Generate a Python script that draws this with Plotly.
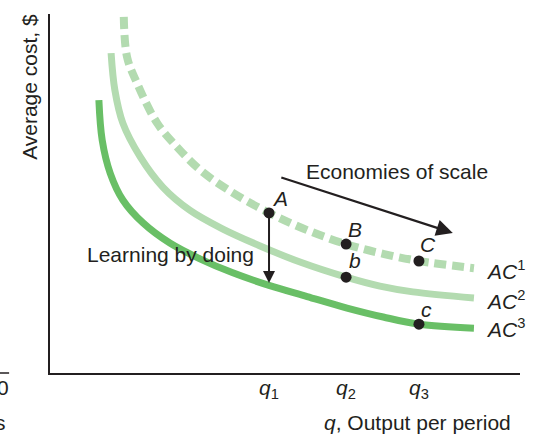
import plotly.graph_objects as go

# ── data (axis units: 0-100 on both axes) ─────────────────────────
ac1_x = [15.7, 16.4, 18.5, 22.8, 27.0, 31.9, 38.3, 46.6, 54.7, 63.0, 70.2, 78.5, 90.2]
ac1_y = [99.2, 88.0, 80.8, 69.6, 63.0, 56.6, 50.7, 44.6, 39.8, 35.9, 33.4, 31.2, 29.2]

ac2_x = [13.0, 13.8, 15.5, 19.2, 24.0, 29.8, 36.8, 44.7, 53.2, 63.0, 70.2, 77.2, 90.2]
ac2_y = [89.1, 78.8, 69.6, 60.2, 51.8, 45.3, 40.1, 35.4, 30.9, 26.7, 24.2, 22.6, 20.9]

ac3_x = [10.4, 11.1, 12.8, 15.5, 19.8, 25.5, 31.9, 38.9, 46.6, 54.7, 63.2, 70.9, 78.5, 90.2]
ac3_y = [76.0, 64.9, 55.7, 48.2, 41.8, 36.2, 31.8, 27.9, 24.4, 21.3, 18.1, 15.6, 13.6, 12.5]

q_vals = [46.6, 63.0, 78.5]
q_text = ["<i>q</i><sub>1</sub>", "<i>q</i><sub>2</sub>", "<i>q</i><sub>3</sub>"]

pt_names = ["A", "B", "C", "b", "c"]
pt_x = [46.6, 63.0, 78.5, 63.0, 78.5]
pt_y = [44.6, 35.9, 31.2, 26.7, 13.6]
lab_x = [48.9, 64.9, 80.4, 64.9, 80.2]
lab_y = [48.7, 40.1, 35.7, 31.2, 17.8]

curve_names = ["1", "2", "3"]
curve_lab_y = [28.7, 20.3, 12.5]

learn_end_y = 25.1
econ_start = (48.9, 54.6)
econ_end = (85.7, 39.0)

FONT = "Liberation Sans, Arial, sans-serif"
INK = "#231f20"
LIGHT = "#b3dbb0"
DARK = "#69bf66"
FS = 21

fig = go.Figure()

fig.add_trace(go.Scatter(x=ac1_x, y=ac1_y, mode="lines", line_shape="spline",
                         line=dict(color=LIGHT, width=8, dash="12px,6px")))
fig.add_trace(go.Scatter(x=ac2_x, y=ac2_y, mode="lines", line_shape="spline",
                         line=dict(color=LIGHT, width=7)))
fig.add_trace(go.Scatter(x=ac3_x, y=ac3_y, mode="lines", line_shape="spline",
                         line=dict(color=DARK, width=7)))
fig.add_trace(go.Scatter(x=pt_x, y=pt_y, mode="markers",
                         marker=dict(color=INK, size=11)))

ann = []
for name, x, y in zip(pt_names, lab_x, lab_y):
    ann.append(dict(x=x, y=y, text=f"<i>{name}</i>", showarrow=False,
                    font=dict(size=FS, color=INK)))
for sup, y in zip(curve_names, curve_lab_y):
    ann.append(dict(x=92.3, y=y, text=f"<i>AC</i><sup>{sup}</sup>",
                    showarrow=False, xanchor="left", yanchor="middle",
                    font=dict(size=FS, color=INK)))

# q tick labels
for q, t in zip(q_vals, q_text):
    ann.append(dict(x=q, y=-0.044, yref="paper", text=t, showarrow=False,
                    xanchor="center", yanchor="middle", font=dict(size=FS, color=INK)))

# arrows
ann.append(dict(x=pt_x[0], y=learn_end_y, ax=pt_x[0], ay=pt_y[0], axref="x", ayref="y",
                showarrow=True, arrowhead=2, arrowsize=1.2, arrowwidth=2,
                arrowcolor=INK, text=""))
ann.append(dict(x=econ_end[0], y=econ_end[1], ax=econ_start[0], ay=econ_start[1],
                axref="x", ayref="y", showarrow=True, arrowhead=2, arrowsize=1.5,
                arrowwidth=2.2, arrowcolor=INK, text=""))
ann.append(dict(x=73.8, y=56.0, text="Economies of scale", showarrow=False,
                font=dict(size=FS, color=INK)))
ann.append(dict(x=43.8, y=32.9, text="Learning by doing", showarrow=False,
                xanchor="right", font=dict(size=FS, color=INK)))

# axis titles
ann.append(dict(x=0.985, y=-0.1365, xref="paper", yref="paper", xanchor="right",
                yanchor="middle", text="<i>q</i>, Output per period", showarrow=False,
                font=dict(size=FS, color=INK)))
ann.append(dict(x=-0.0426, y=0.797, xref="paper", yref="paper", textangle=-90,
                xanchor="center", yanchor="middle",
                text="Average cost, $", showarrow=False, font=dict(size=FS, color=INK)))

# cropped leftovers at the left edge
ann.append(dict(x=-0.083, y=-0.039, xref="paper", yref="paper", xanchor="right",
                yanchor="middle", text="0", showarrow=False, font=dict(size=FS, color=INK)))
ann.append(dict(x=-0.09, y=-0.139, xref="paper", yref="paper", xanchor="right",
                yanchor="middle", text="s", showarrow=False, font=dict(size=FS, color=INK)))

fig.add_shape(type="line", xref="paper", yref="paper", x0=-0.11, x1=-0.087, y0=0, y1=0,
              line=dict(color=INK, width=1.5))

fig.update_layout(
    width=536, height=434,
    margin=dict(l=50, r=16, t=14, b=61),
    plot_bgcolor="white", paper_bgcolor="white",
    showlegend=False,
    font=dict(family=FONT, color=INK, size=FS),
    annotations=ann,
)
fig.update_xaxes(range=[0, 100], showgrid=False, zeroline=False, showline=True,
                 linecolor=INK, linewidth=2, ticks="", showticklabels=False)
fig.update_yaxes(range=[0, 100], showgrid=False, zeroline=False, showline=True,
                 linecolor=INK, linewidth=2, ticks="", showticklabels=False)

fig.write_html("out.html", config={"displayModeBar": False},
               post_script="document.body.style.margin='0';")
